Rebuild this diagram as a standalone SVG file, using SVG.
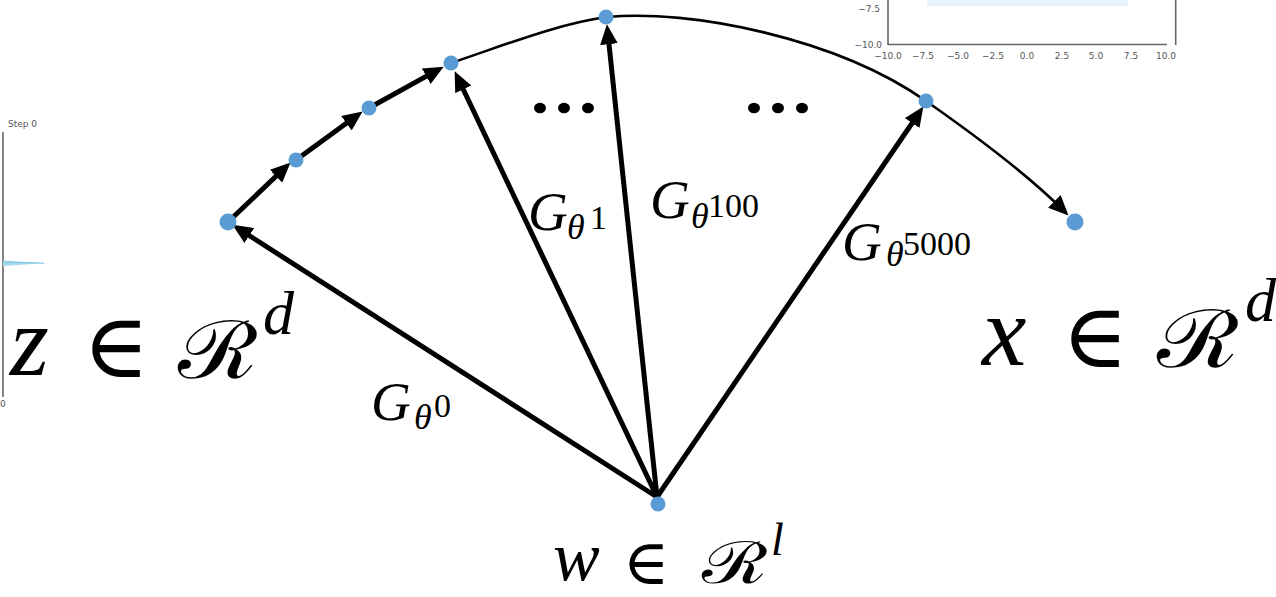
<svg xmlns="http://www.w3.org/2000/svg" width="1276" height="597" viewBox="0 0 1276 597">
<style>
.bg{fill:#ffffff}
.thick{fill:none;stroke:#000;stroke-width:5}
.thin{fill:none;stroke:#000;stroke-width:2.6}
.node{fill:#5b9bd5}
.dot{fill:#000}
.tick{font-family:"DejaVu Sans",sans-serif;font-size:9px;fill:#555}
.spine{stroke:#666;stroke-width:1.6;fill:none}
.mi{font-family:"Liberation Serif",serif;font-style:italic;fill:#000}
.num{font-family:"Liberation Serif",serif;fill:#000}
.op{font-family:"DejaVu Serif",serif;fill:#000}
.cal{font-family:"Liberation Serif",serif;fill:#000}
</style>
<defs>
<marker id="ah" markerUnits="userSpaceOnUse" markerWidth="20" markerHeight="18" viewBox="0 0 18 16" refX="11" refY="8" orient="auto">
<path d="M0,0 L18,8 L0,16 z" fill="#000"/>
</marker>
</defs>
<rect class="bg" x="0" y="0" width="1276" height="597"/>

<g id="plot-fragment-top">
<rect x="927" y="0" width="201" height="6" fill="#e8f4fc"/>
<path class="spine" d="M888,0 V44.5 H1167"/>
<path class="spine" d="M1175.7,0 V45"/>
<text class="tick" x="880" y="12" text-anchor="end">−7.5</text>
<text class="tick" x="882" y="48" text-anchor="end">−10.0</text>
<text class="tick" x="888" y="59" text-anchor="middle">−10.0</text>
<text class="tick" x="923" y="59" text-anchor="middle">−7.5</text>
<text class="tick" x="958" y="59" text-anchor="middle">−5.0</text>
<text class="tick" x="993" y="59" text-anchor="middle">−2.5</text>
<text class="tick" x="1027" y="59" text-anchor="middle">0.0</text>
<text class="tick" x="1062" y="59" text-anchor="middle">2.5</text>
<text class="tick" x="1096" y="59" text-anchor="middle">5.0</text>
<text class="tick" x="1131" y="59" text-anchor="middle">7.5</text>
<text class="tick" x="1166" y="59" text-anchor="middle">10.0</text>
</g>

<g id="plot-fragment-left">
<text class="tick" x="8" y="127">Step 0</text>
<path class="spine" d="M3,132 V397"/>
<path d="M3,260.5 L44,263.2 L3,266 z" fill="#a6d8ef"/>
<path d="M3,262 L44,263.2" stroke="#7cc4e6" stroke-width="1" fill="none"/>
<text class="tick" x="0" y="407">0</text>
</g>

<g id="connectors">
<path class="thick" marker-end="url(#ah)" d="M228,222 L284.9,167.8"/>
<path class="thick" marker-end="url(#ah)" d="M296,160 L356.3,116.1"/>
<path class="thick" marker-end="url(#ah)" d="M369,108 L436.9,70.4"/>
<path class="thin" marker-end="url(#ah)" d="M451,63 C501,46.5 557,23.75 607,17 C690,9 836,38 926,101 C971,132.5 1028,175 1063,210"/>
<path class="thick" marker-end="url(#ah)" d="M657,497 L239,229"/>
<path class="thick" marker-end="url(#ah)" d="M657,497 L458,78.3"/>
<path class="thick" marker-end="url(#ah)" d="M657,497 L607.7,32"/>
<path class="thick" marker-end="url(#ah)" d="M657,497 L919,113"/>
</g>

<g id="ellipsis-left">
<ellipse class="dot" cx="540" cy="108" rx="6" ry="5.2"/>
<ellipse class="dot" cx="564" cy="108" rx="6" ry="5.2"/>
<ellipse class="dot" cx="588" cy="108" rx="6" ry="5.2"/>
</g>
<g id="ellipsis-right">
<ellipse class="dot" cx="754" cy="108" rx="6" ry="5.2"/>
<ellipse class="dot" cx="778" cy="108" rx="6" ry="5.2"/>
<ellipse class="dot" cx="802" cy="108" rx="6" ry="5.2"/>
</g>

<g id="node-z"><circle class="node" cx="228" cy="222" r="8.5"/></g>
<g id="node-step1"><circle class="node" cx="296" cy="160" r="7.5"/></g>
<g id="node-step2"><circle class="node" cx="369" cy="108" r="7.5"/></g>
<g id="node-theta1"><circle class="node" cx="451" cy="63" r="7.5"/></g>
<g id="node-theta100"><circle class="node" cx="606" cy="17" r="7.5"/></g>
<g id="node-theta5000"><circle class="node" cx="926" cy="101" r="7.5"/></g>
<g id="node-x"><circle class="node" cx="1075" cy="222" r="8.5"/></g>
<g id="node-w"><circle class="node" cx="658" cy="504" r="7.5"/></g>

<g id="label-z">
<text class="mi" x="10" y="375" font-size="100">z</text>
<text class="op" x="116" y="377" font-size="90" text-anchor="middle">∈</text>
<text class="cal" x="178" y="378" font-size="80" textLength="80" lengthAdjust="spacingAndGlyphs">ℛ</text>
<text class="mi" x="263" y="334" font-size="62">d</text>
</g>
<g id="label-x">
<text class="mi" x="982" y="365" font-size="100">x</text>
<text class="op" x="1095" y="367" font-size="90" text-anchor="middle">∈</text>
<text class="cal" x="1157" y="367" font-size="80" textLength="82" lengthAdjust="spacingAndGlyphs">ℛ</text>
<text class="mi" x="1245" y="321" font-size="62">d</text>
</g>
<g id="label-w">
<text class="mi" x="553" y="580" font-size="70">w</text>
<text class="op" x="646" y="584" font-size="63" text-anchor="middle">∈</text>
<text class="cal" x="702" y="583" font-size="58" textLength="66" lengthAdjust="spacingAndGlyphs">ℛ</text>
<text class="mi" x="771" y="555" font-size="46">l</text>
</g>
<g id="label-g0">
<text class="mi" x="371" y="420" font-size="55">G</text>
<text class="mi" x="414" y="429" font-size="36">θ</text>
<text class="num" x="434" y="417" font-size="34">0</text>
</g>
<g id="label-g1">
<text class="mi" x="528" y="230" font-size="55">G</text>
<text class="mi" x="567" y="239" font-size="36">θ</text>
<text class="num" x="590" y="229" font-size="34">1</text>
</g>
<g id="label-g100">
<text class="mi" x="650" y="218" font-size="55">G</text>
<text class="mi" x="691" y="228" font-size="36">θ</text>
<text class="num" x="708" y="217" font-size="34">100</text>
</g>
<g id="label-g5000">
<text class="mi" x="842" y="260" font-size="55">G</text>
<text class="mi" x="886" y="266" font-size="36">θ</text>
<text class="num" x="903" y="255" font-size="34">5000</text>
</g>
</svg>
